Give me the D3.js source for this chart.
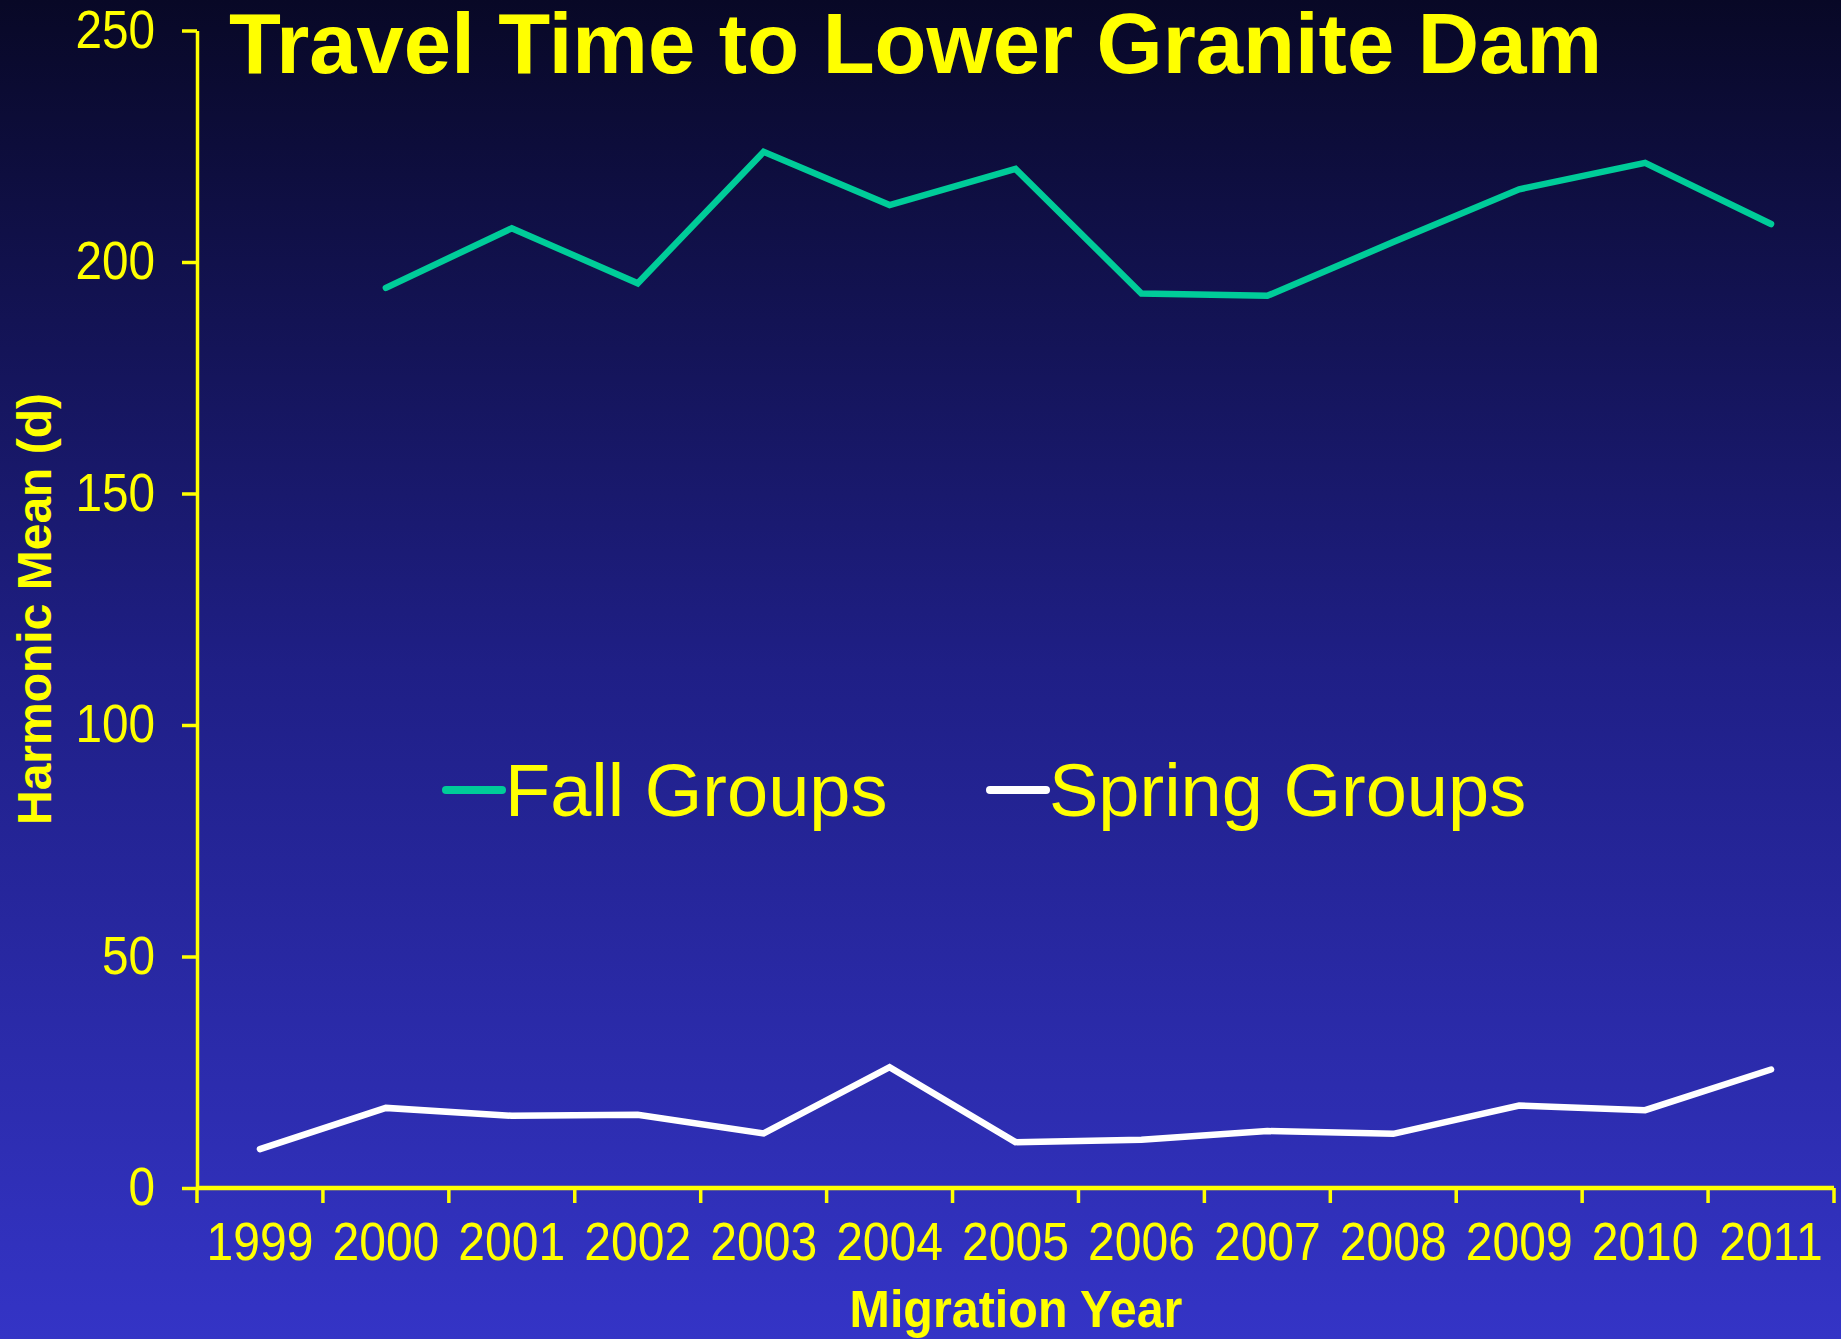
<!DOCTYPE html>
<html>
<head>
<meta charset="utf-8">
<script src="https://cdn.jsdelivr.net/npm/d3@7"></script>
<style>
  html, body { margin: 0; padding: 0; background: #1a1a6a; }
  svg { display: block; font-family: Arial, "Liberation Sans", sans-serif; }
</style>
</head>
<body>
<svg id="chart" width="1841" height="1339"></svg>
<script>
const years = ["1999", "2000", "2001", "2002", "2003", "2004", "2005",
  "2006", "2007", "2008", "2009", "2010", "2011"];
const fallValues = [null, 194.4, 207.3, 195.4, 223.8, 212.3, 220.1,
  193.2, 192.7, 204.3, 215.7, 221.4, 208.2];
const springValues = [8.4, 17.3, 15.6, 15.8, 11.8, 26.1, 9.9,
  10.4, 12.3, 11.7, 17.8, 16.8, 25.6];
const yTicks = [0, 50, 100, 150, 200, 250];
const seriesNames = ["Fall Groups", "Spring Groups"];
const seriesColors = ["#00cc99", "#ffffff"];

const W = 1841, H = 1339;
const yellow = "#ffff00";
const svg = d3.select("#chart");

// background gradient
const defs = svg.append("defs");
const grad = defs.append("linearGradient")
  .attr("id", "bg").attr("x1", 0).attr("y1", 0).attr("x2", 0).attr("y2", 1);
grad.append("stop").attr("offset", "0%").attr("stop-color", "#080826");
grad.append("stop").attr("offset", "50%").attr("stop-color", "#1f1f86");
grad.append("stop").attr("offset", "100%").attr("stop-color", "#3434c6");
svg.append("rect").attr("width", W).attr("height", H).attr("fill", "url(#bg)");

const x = d3.scaleBand().domain(years).range([197, 1834]).padding(0);
const y = d3.scaleLinear().domain([0, 250]).range([1188, 30.5]);

// y axis
const ySquash = 0.9;
const yAxis = svg.append("g")
  .attr("transform", `translate(${x.range()[0]},0)`)
  .call(d3.axisLeft(y).tickValues(yTicks).tickSize(15).tickPadding(27).tickSizeOuter(0));
yAxis.select(".domain").attr("stroke", yellow).attr("stroke-width", 3.5);
yAxis.selectAll(".tick line").attr("stroke", yellow).attr("stroke-width", 3.5);
yAxis.selectAll(".tick text")
  .attr("fill", yellow).attr("font-size", 53).attr("font-family", "Arial, Liberation Sans")
  .attr("x", -42 / ySquash)
  .attr("transform", `scale(${ySquash},1)`);

// x axis
const x0 = x.range()[0];
const xAxis = svg.append("g").attr("transform", `translate(0,${y(0)})`);
xAxis.append("line")
  .attr("x1", x0).attr("x2", x.range()[1])
  .attr("stroke", yellow).attr("stroke-width", 4.5);
xAxis.selectAll(".bt")
  .data(d3.range(years.length + 1))
  .join("line")
  .attr("class", "bt")
  .attr("x1", (i) => x0 + i * x.step())
  .attr("x2", (i) => x0 + i * x.step())
  .attr("y1", 0).attr("y2", 15)
  .attr("stroke", yellow).attr("stroke-width", 3.5);
xAxis.selectAll(".lbl")
  .data(years)
  .join("text")
  .attr("class", "lbl")
  .attr("transform", (d) => `translate(${x(d) + x.bandwidth() / 2},72) scale(0.89,1)`)
  .attr("text-anchor", "middle")
  .attr("fill", yellow)
  .attr("font-size", 54)
  .text((d) => d);

// axis titles
svg.append("text")
  .attr("transform", "translate(1016,1327) scale(0.95,1)")
  .attr("text-anchor", "middle")
  .attr("fill", yellow).attr("font-weight", "bold").attr("font-size", 51)
  .text("Migration Year");

svg.append("text")
  .attr("transform", "translate(51,609) rotate(-90)")
  .attr("text-anchor", "middle")
  .attr("fill", yellow).attr("font-weight", "bold").attr("font-size", 48)
  .text("Harmonic Mean (d)");

svg.append("text")
  .attr("x", 229).attr("y", 73)
  .attr("fill", yellow).attr("font-weight", "bold").attr("font-size", 85)
  .text("Travel Time to Lower Granite Dam");

// series lines
const line = d3.line()
  .defined((d) => d.v != null)
  .x((d) => x(d.year) + x.bandwidth() / 2)
  .y((d) => y(d.v));

[fallValues, springValues].forEach((vals, i) => {
  svg.append("path")
    .datum(years.map((yr, j) => ({ year: yr, v: vals[j] })))
    .attr("d", line)
    .attr("fill", "none")
    .attr("stroke", seriesColors[i])
    .attr("stroke-width", 6.5)
    .attr("stroke-linecap", "round")
    .attr("stroke-linejoin", "miter");
});

// legend
const legendX = [446, 990];
seriesNames.forEach((name, i) => {
  const g = svg.append("g").attr("transform", `translate(${legendX[i]},790)`);
  g.append("line")
    .attr("x1", 0).attr("x2", 56)
    .attr("stroke", seriesColors[i]).attr("stroke-width", 8)
    .attr("stroke-linecap", "round");
  g.append("text")
    .attr("x", 59).attr("y", 26)
    .attr("fill", yellow).attr("font-size", 74)
    .text(name);
});
</script>
</body>
</html>
